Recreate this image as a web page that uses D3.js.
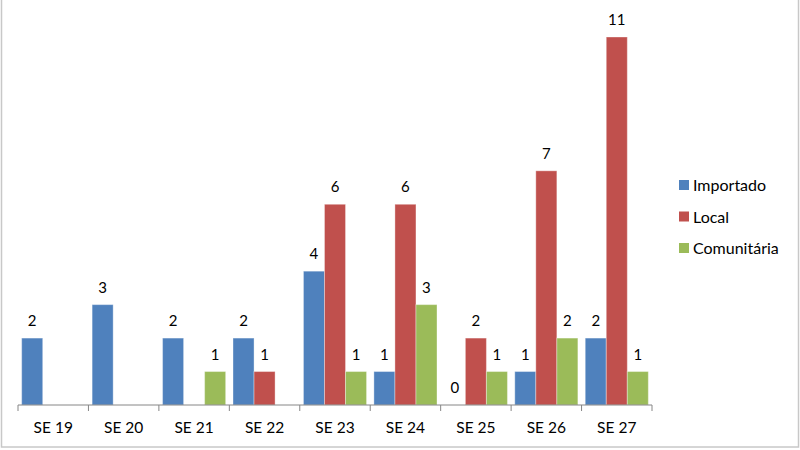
<!DOCTYPE html>
<html>
<head>
<meta charset="utf-8">
<script src="https://cdn.jsdelivr.net/npm/d3@7"></script>
<style>
  body { margin: 0; background: #fff; }
  svg { display: block; font-family: Lato, "Open Sans", sans-serif; }
  .axis path, .axis line { stroke: #868686; }
  .value-label { font-size: 15px; fill: #000; text-anchor: middle; }
  .cat-label { font-size: 15.5px; fill: #000; text-anchor: middle; }
  .legend-text { font-size: 16px; fill: #000; }
</style>
</head>
<body>
<svg id="chart" width="800" height="450"></svg>
<script>
// categories and series (null = no bar in that week)
var weeks = ["SE 19", "SE 20", "SE 21", "SE 22", "SE 23", "SE 24", "SE 25", "SE 26", "SE 27"];
var importado = [2, 3, 2, 2, 4, 1, 0, 1, 2];
var local = [null, null, null, 1, 6, 6, 2, 7, 11];
var comunitaria = [null, null, 1, null, 1, 3, 1, 2, 1];
var seriesNames = ["Importado", "Local", "Comunitária"];
var seriesColors = ["#4F81BD", "#C0504D", "#9BBB59"];

var svg = d3.select("#chart");

// outer frame (right / bottom edges visible in the picture)
svg.append("rect")
    .attr("x", 1.5).attr("y", -2)
    .attr("width", 797).attr("height", 449)
    .attr("fill", "none")
    .attr("stroke", "#c8c8c8")
    .attr("stroke-width", 1.5);

var margin = {left: 18, top: 37, right: 148, bottom: 45};
var width = 800 - margin.left - margin.right;   // 634
var baseY = 405;

var g = svg.append("g");

var x = d3.scaleBand()
    .domain(weeks)
    .range([margin.left, margin.left + width])
    .paddingInner(0)
    .paddingOuter(0);

var y = d3.scaleLinear()
    .domain([0, 11])
    .range([baseY, margin.top]);

var xSub = d3.scaleBand()
    .domain(seriesNames)
    .range([0, x.bandwidth()])
    .paddingInner(0)
    .paddingOuter(0.175);

// flatten the arrays into rows for drawing
var rows = weeks.map(function(w, i){
    return {
        week: w,
        values: [
            {key: "Importado", value: importado[i]},
            {key: "Local", value: local[i]},
            {key: "Comunitária", value: comunitaria[i]}
        ]
    };
});

var color = d3.scaleOrdinal().domain(seriesNames).range(seriesColors);

var groups = g.selectAll(".week")
    .data(rows)
    .join("g")
    .attr("class", "week")
    .attr("transform", function(d){ return "translate(" + x(d.week) + ",0)"; });

groups.selectAll("rect")
    .data(function(d){ return d.values.filter(function(v){ return v.value !== null; }); })
    .join("rect")
    .attr("x", function(d){ return xSub(d.key); })
    .attr("y", function(d){ return y(d.value); })
    .attr("width", xSub.bandwidth())
    .attr("height", function(d){ return baseY - y(d.value); })
    .attr("fill", function(d){ return color(d.key); })
    .attr("stroke", "rgba(255,255,255,0.35)")
    .attr("stroke-width", 1);

groups.selectAll(".value-label")
    .data(function(d){ return d.values.filter(function(v){ return v.value !== null; }); })
    .join("text")
    .attr("class", "value-label")
    .attr("x", function(d){ return xSub(d.key) + xSub.bandwidth() / 2; })
    .attr("y", function(d){ return y(d.value) - 12; })
    .text(function(d){ return d.value; });

// X axis with ticks between categories
var axis = g.append("g")
    .attr("class", "axis")
    .attr("transform", "translate(0," + baseY + ")");

axis.append("line")
    .attr("x1", margin.left).attr("x2", margin.left + width)
    .attr("y1", 0).attr("y2", 0);

var tickPos = weeks.map(function(w){ return x(w); }).concat([margin.left + width]);
axis.selectAll(".tick-line")
    .data(tickPos)
    .join("line")
    .attr("class", "tick-line")
    .attr("x1", function(d){ return d; }).attr("x2", function(d){ return d; })
    .attr("y1", 0).attr("y2", 6);

axis.selectAll(".cat-label")
    .data(weeks)
    .join("text")
    .attr("class", "cat-label")
    .attr("x", function(d){ return x(d) + x.bandwidth() / 2; })
    .attr("y", 28)
    .text(function(d){ return d; });

// legend
var legend = svg.selectAll(".legend")
    .data(seriesNames)
    .join("g")
    .attr("class", "legend")
    .attr("transform", function(d, i){ return "translate(679," + (185 + i * 31.5) + ")"; });

legend.append("rect")
    .attr("x", 0).attr("y", -5)
    .attr("width", 10).attr("height", 10)
    .attr("fill", function(d){ return color(d); });

legend.append("text")
    .attr("class", "legend-text")
    .attr("x", 14)
    .attr("y", 6)
    .text(function(d){ return d; });
</script>
</body>
</html>
